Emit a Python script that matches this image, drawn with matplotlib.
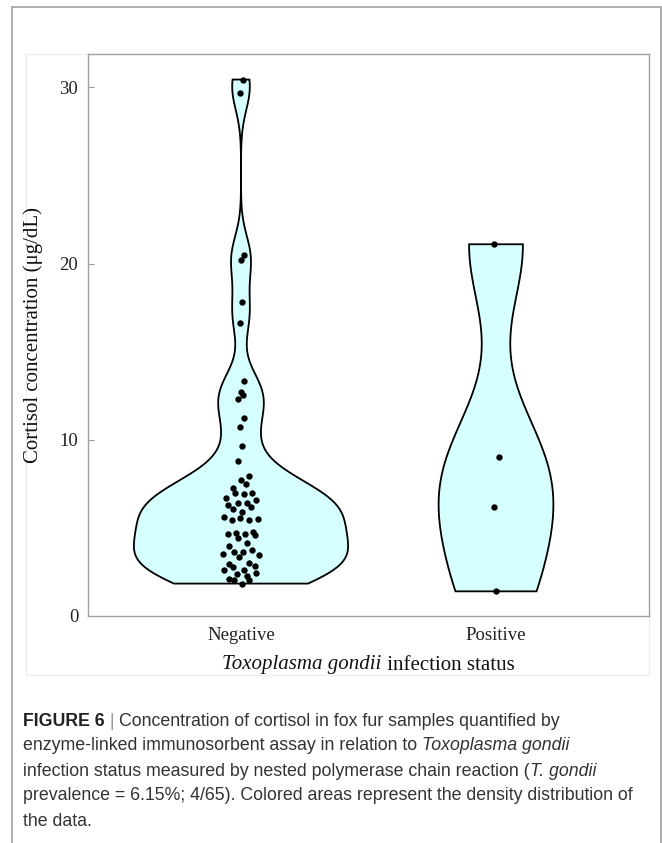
import numpy as np
import matplotlib
matplotlib.use("Agg")
import matplotlib.pyplot as plt
from matplotlib.patches import Rectangle

# ---------------- data ----------------
categories = ["Negative", "Positive"]

neg_values = [30.45, 29.66, 20.5, 20.2,
              17.82, 16.63, 13.35, 12.69, 12.54, 12.29, 11.23, 10.70, 9.64,
              8.81, 7.92, 7.73, 7.48, 7.25, 6.99, 6.91, 7.01, 6.67, 6.59,
              6.42, 6.42, 6.31, 6.19, 6.06, 5.93, 5.61, 5.55, 5.44, 5.44, 5.53,
              4.64, 4.72, 4.64, 4.79, 4.60, 4.41, 4.17, 4.00,
              3.73, 3.65, 3.64, 3.50, 3.47, 3.35,
              2.95, 2.99, 2.78, 2.84, 2.60, 2.60, 2.46, 2.37, 2.27,
              2.12, 2.03, 2.03, 1.84]
neg_jitter = [0.007, -0.003, 0.010, 0.001,
              0.003, -0.004, 0.013, 0.001, 0.008, -0.012, 0.010, -0.003, 0.003,
              -0.010, 0.031, -0.001, 0.020, -0.030, -0.022, 0.013, 0.043, -0.059, 0.059,
              -0.013, 0.024, -0.050, 0.041, -0.033, 0.004, -0.065, -0.003, -0.037, 0.033, 0.067,
              -0.052, -0.020, 0.014, 0.047, 0.055, -0.010, 0.022, -0.046,
              0.043, -0.029, 0.008, -0.069, 0.069, -0.007,
              -0.046, 0.033, -0.030, 0.054, -0.065, 0.013, 0.060, -0.017, 0.024,
              -0.046, -0.029, 0.033, 0.003]

pos_values = [21.1, 9.05, 6.2, 1.4]
pos_jitter = [-0.008, 0.012, -0.008, 0.0]

y_ticks = [0, 10, 20, 30]
y_label = "Cortisol concentration (\u03bcg/dL)"

# ---------------- helpers ----------------
def bw_nrd0(x):
    x = np.asarray(x, float)
    sd = np.std(x, ddof=1)
    q75, q25 = np.percentile(x, [75, 25])
    lo = min(sd, (q75 - q25) / 1.34)
    if lo <= 0:
        lo = sd
    return 0.9 * lo * len(x) ** (-0.2)

def kde(x, grid):
    x = np.asarray(x, float)
    h = bw_nrd0(x)
    z = (grid[:, None] - x[None, :]) / h
    return np.exp(-0.5 * z ** 2).sum(axis=1) / (len(x) * h * np.sqrt(2 * np.pi))

W, H = 662, 843
fig = plt.figure(figsize=(W / 100, H / 100), dpi=100)
fig.patch.set_facecolor("white")

def fx(px):
    return px / W

def fy(py):
    return 1 - py / H

# outer frame and panel boxes (behind the axes)
fig.patches.append(Rectangle((fx(12), fy(900)), fx(661) - fx(12), fy(7) - fy(900),
                             transform=fig.transFigure, fill=False,
                             edgecolor="#a8a8a8", linewidth=1.3, zorder=-2))
fig.patches.append(Rectangle((fx(26), fy(675)), fx(649) - fx(26), fy(54) - fy(675),
                             transform=fig.transFigure, fill=False,
                             edgecolor="#ececec", linewidth=0.8, zorder=-2))

ax = fig.add_axes([fx(88), fy(616), fx(649) - fx(88), fy(54) - fy(616)])
ax.set_zorder(1)
ax.patch.set_alpha(0)

serif = "Liberation Serif"
fill_col = "#d6ffff"

groups = [neg_values, pos_values]
jitters = [neg_jitter, pos_jitter]
max_half = [0.42, 0.225]
for i, (vals, jit) in enumerate(zip(groups, jitters)):
    pos = i + 1
    grid = np.linspace(min(vals), max(vals), 512)
    d = kde(vals, grid)
    half = max_half[i] * d / d.max()
    xs = np.concatenate([pos - half, (pos + half)[::-1], [pos - half[0]]])
    ys = np.concatenate([grid, grid[::-1], [grid[0]]])
    ax.fill(xs, ys, facecolor=fill_col, edgecolor="black", linewidth=1.3, zorder=2)
    ax.scatter(pos + np.asarray(jit), vals, s=21, color="black", zorder=3,
               linewidths=0)

ax.set_xlim(0.4, 2.6)
ax.set_ylim(0, 31.9)
ax.set_xticks([1, 2])
ax.set_xticklabels(categories, fontfamily=serif, fontsize=13.5, color="#222222")
ax.set_yticks(y_ticks)
ax.set_yticklabels([str(t) for t in y_ticks], fontfamily=serif, fontsize=13.5,
                   color="#222222")
ax.tick_params(axis="y", direction="in", length=4, width=0.8, colors="#999999",
               labelcolor="#222222", pad=7)
ax.tick_params(axis="x", length=0, pad=8, labelcolor="#222222")
for s in ax.spines.values():
    s.set_color("#a0a0a0")
    s.set_linewidth(1.0)

ax.set_ylabel(y_label, fontfamily=serif, fontsize=15, color="#111111", labelpad=12)

fig.canvas.draw()
renderer = fig.canvas.get_renderer()

def draw_runs(x_px, y_px, runs, center=False, va="center"):
    """Draw a line made of styled runs; x_px is left edge (or center)."""
    texts = []
    widths = []
    for txt, kw in runs:
        t = fig.text(0, 0, txt, va=va, ha="left", **kw)
        widths.append(t.get_window_extent(renderer).width)
        texts.append(t)
    total = sum(widths)
    x = x_px - total / 2 if center else x_px
    for t, w in zip(texts, widths):
        t.set_position((fx(x), fy(y_px)))
        x += w
    return total

# x label
draw_runs(368.5, 665, [("Toxoplasma gondii", dict(fontfamily=serif, fontstyle="italic", fontsize=15, color="#111111")),
                       ("\u00a0infection status", dict(fontfamily=serif, fontsize=15, color="#111111"))],
          center=True)

# caption
sans = "Liberation Sans"
cs = 12.8
cc = "#333333"
reg = dict(fontfamily=sans, fontsize=cs, color=cc)
ita = dict(fontfamily=sans, fontsize=cs, color=cc, fontstyle="italic")
bold = dict(fontfamily=sans, fontsize=cs, color="#222222", fontweight="bold")
bar = dict(fontfamily=sans, fontsize=cs, color="#9a9a9a")

cap_lines = [
    [("FIGURE 6", bold), ("\u00a0|\u00a0", bar),
     ("Concentration of cortisol in fox fur samples quantified by", reg)],
    [("enzyme-linked immunosorbent assay in relation to\u00a0", reg), ("Toxoplasma gondii", ita)],
    [("infection status measured by nested polymerase chain reaction (", reg), ("T. gondii", ita)],
    [("prevalence = 6.15%; 4/65). Colored areas represent the density distribution of", reg)],
    [("the data.", reg)],
]
cap_y = [721, 746, 771, 796, 821]
for runs, y in zip(cap_lines, cap_y):
    draw_runs(23, y, runs)

fig.savefig("out.png", dpi=100, facecolor="white")
